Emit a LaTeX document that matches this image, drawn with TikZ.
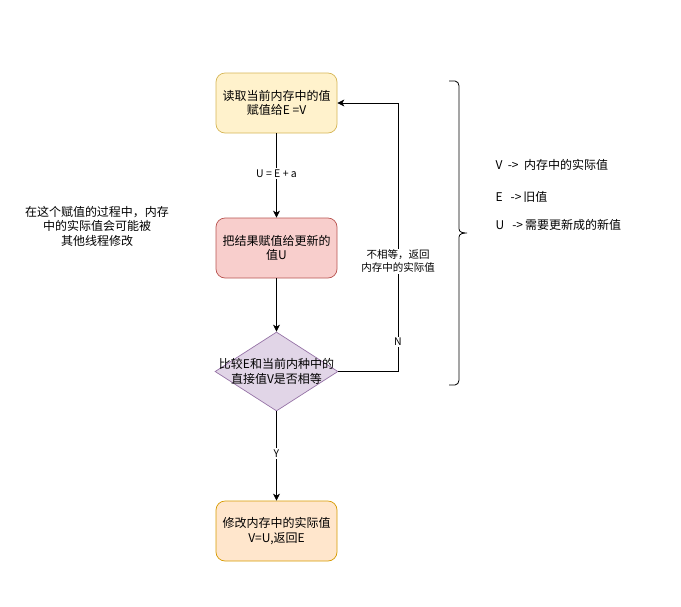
\documentclass[tikz,border=0pt]{standalone}
\usepackage{fontspec}
\setmainfont{Noto Sans CJK SC}
\usetikzlibrary{shapes.geometric,arrows.meta}
\begin{document}
\begin{tikzpicture}[x=1pt,y=-1pt,
  box/.style={draw,rounded corners=9pt,minimum width=121pt,minimum height=60pt,align=center,font=\fontsize{12}{14.5}\selectfont,line width=0.7pt,inner sep=2pt},
  dia/.style={draw,diamond,minimum width=123pt,minimum height=79pt,line width=0.7pt,inner sep=0pt},
  conn/.style={line width=0.8pt,-{Stealth[length=7pt,width=7pt,inset=2pt]}},
  lbl/.style={fill=white,inner sep=1.5pt,font=\fontsize{10.5}{13}\selectfont,align=center},
  txt/.style={font=\fontsize{12}{14.5}\selectfont,align=center}]
\useasboundingbox (0,0) rectangle (681,606);
\definecolor{yfill}{HTML}{FFF2CC}\definecolor{ystroke}{HTML}{D6B656}
\definecolor{rfill}{HTML}{F8CECC}\definecolor{rstroke}{HTML}{B85450}
\definecolor{pfill}{HTML}{E1D5E7}\definecolor{pstroke}{HTML}{9673A6}
\definecolor{ofill}{HTML}{FFE6CC}\definecolor{ostroke}{HTML}{D79B00}

\node[box,fill=yfill,draw=ystroke] (b1) at (276.5,103) {读取当前内存中的值\\赋值给E =V};
\node[box,fill=rfill,draw=rstroke] (b2) at (276.5,248) {把结果赋值给更新的\\值U};
\node[dia,fill=pfill,draw=pstroke] (d) at (276.5,371.5) {};
\node[txt] (dt) at (d.center) {比较E和当前内种中的\\直接值V是否相等};
\node[box,fill=ofill,draw=ostroke] (b4) at (276.5,531) {修改内存中的实际值\\V=U,返回E};

\coordinate (c1) at (398,371.5);
\coordinate (c2) at (398,103);

\draw[conn] (b1) -- node[lbl,pos=0.48] {U = E + a} (b2);
\draw[conn] (b2) -- (d);
\draw[conn] (d) -- node[lbl,pos=0.47] {Y} (b4);
\draw[conn] (d.east) -- (c1) -- node[lbl,pos=0.11] {N} node[lbl,pos=0.41] {不相等，返回\\内存中的实际值} (c2) -- (b1.east);

\draw[line width=0.8pt] (449,81) -- (455,81) to[out=0,in=90] (459,86) -- (459,229) to[out=-90,in=180] (467,233) (467,233) to[out=180,in=90] (459,237) -- (459,380) to[out=-90,in=0] (455,385) -- (449,385);
\coordinate (brace) at (467,233);

\node[txt,anchor=west] (lv) at (492,165) {V\ \ ->\ \ 内存中的实际值};
\node[txt,anchor=west] (le) at (492,197) {E\ \ \ ->\,旧值};
\node[txt,anchor=west] (lu) at (492,225) {U\ \ \ ->\,需要更新成的新值};

\node[txt] (note) at (97,226) {在这个赋值的过程中，内存\\中的实际值会可能被\\其他线程修改};
\end{tikzpicture}
\end{document}
